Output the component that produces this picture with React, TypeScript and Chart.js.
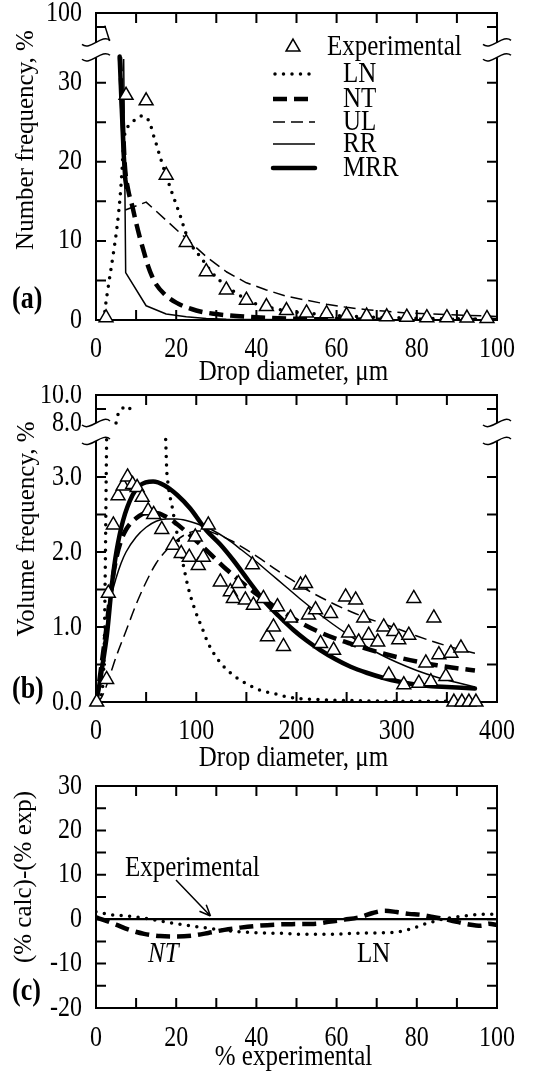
import React, { useEffect, useRef } from 'react';
import { Chart, registerables, LinearScale } from 'chart.js';

Chart.register(...registerables);

const SERIF = '"Liberation Serif", "Times New Roman", Times, serif';
const TEXT_STRETCH = 1.2;

// ---------------- Series names ----------------
const seriesNames = ['Experimental', 'LN', 'NT', 'UL', 'RR', 'MRR'];

// ---------------- Panel (a): number frequency ----------------
const aXTicks = [10, 20, 30, 40, 50, 60, 70, 80, 90];
const aXLabelValues = [0, 20, 40, 60, 80, 100];
const aXLabels = ['0', '20', '40', '60', '80', '100'];
const aYTicks = [5, 10, 15, 20, 25, 30, 90];
const aYLabelValues = [0, 10, 20, 30, 100];
const aYLabels = ['0', '10', '20', '30', '100'];

const aExpD = [2.5, 7.5, 12.5, 17.5, 22.5, 27.5, 32.5, 37.5, 42.5, 47.5, 52.5, 57.5, 62.5, 67.5, 72.5, 77.5, 82.5, 87.5, 92.5, 97.5];
const aExpV = [0.3, 28.4, 27.7, 18.3, 9.8, 6.1, 3.8, 2.5, 1.7, 1.2, 0.9, 0.8, 0.6, 0.5, 0.4, 0.35, 0.3, 0.3, 0.25, 0.2];

const aLnD = [2.0, 2.3, 3.3, 4.5, 5.3, 6.0, 6.5, 6.9, 7.5, 8.5, 9.5, 10.5, 11.5, 12.5, 13.5, 14.3, 15, 16, 17, 18, 19, 20, 21, 22, 23, 24, 26, 28, 30, 32.5, 35, 37.5, 40, 45, 50, 55, 60, 70, 80, 90, 100];
const aLnV = [0, 1.5, 5, 9, 12, 15.5, 19, 22.5, 24, 24.7, 25.2, 25.6, 25.8, 25.6, 24.8, 23.4, 22.3, 20.6, 19.0, 17.5, 16.0, 14.6, 13.2, 11.6, 10.2, 9.3, 8.0, 6.6, 5.4, 4.3, 3.4, 2.6, 2.0, 1.4, 1.0, 0.75, 0.55, 0.35, 0.22, 0.15, 0.1];

const aNtD = [6.0, 6.6, 7.2, 8, 9, 10, 11, 12, 13, 14, 15, 17, 20, 25, 30, 35, 40, 50, 60, 70, 80, 100];
const aNtV = [33.2, 26, 19.5, 16.5, 14.5, 12.3, 10.3, 8.5, 6.8, 5.5, 4.5, 3.3, 2.2, 1.2, 0.75, 0.5, 0.35, 0.15, 0.08, 0.04, 0.02, 0];

const aUlD = [7.3, 12.5, 17.5, 22.5, 27.5, 32.5, 37.5, 42.5, 47.5, 52.5, 57.5, 62.5, 67.5, 72.5, 77.5, 82.5, 87.5, 92.5, 97.5, 100];
const aUlV = [13.9, 14.9, 12.6, 10.3, 8.0, 6.1, 4.7, 3.8, 3.0, 2.5, 2.0, 1.6, 1.3, 1.1, 0.9, 0.78, 0.68, 0.58, 0.5, 0.45];

const aRrD = [2.2, 3.4, 5.0, 6.9, 7.2, 7.4, 12.5, 17.5, 22.5, 27.5, 32.5, 40, 60, 100];
const aRrV = [91, 80, null, 33, 17, 6, 1.8, 0.75, 0.4, 0.2, 0.1, 0.05, 0.02, 0];

const aMrrD = [5.9, 6.4, 6.9, 7.3, 7.6];
const aMrrV = [33.3, 27, 21, 17.8, 16.8];

// ---------------- Panel (b): volume frequency ----------------
const bXTicks = [50, 100, 150, 200, 250, 300, 350];
const bXLabelValues = [0, 100, 200, 300, 400];
const bXLabels = ['0', '100', '200', '300', '400'];
const bYTicks = [0.5, 1.0, 1.5, 2.0, 2.5, 3.0, 9.0];
const bYLabelValues = [0, 1, 2, 3, 8, 10];
const bYLabels = ['0.0', '1.0', '2.0', '3.0', '8.0', '10.0'];

const bExpD = [0.7, 10.6, 12.3, 17.3, 22, 27, 31.5, 36.5, 41, 46, 52, 57.5, 65.6, 77, 85, 93, 99, 102, 107, 112, 124, 134, 137, 142, 149, 156, 157, 167, 171, 177, 181, 187, 194, 204, 209, 212, 219, 224, 234, 237, 249, 252, 259, 262, 267, 272, 281, 287, 292, 297, 302, 307, 312, 317, 322, 329, 334, 337, 342, 349, 354, 357, 364, 365, 372, 379];
const bExpV = [0.0, 0.30, 1.45, 2.36, 2.75, 2.88, 3.0, 2.9, 2.86, 2.73, 2.55, 2.5, 2.3, 2.09, 1.98, 1.93, 2.2, 1.82, 1.93, 2.36, 1.60, 1.47, 1.38, 1.58, 1.36, 1.83, 1.29, 1.38, 0.87, 1.0, 1.27, 0.74, 1.12, 1.56, 1.58, 1.16, 1.23, 0.78, 1.18, 0.69, 1.40, 0.92, 1.36, 0.80, 1.12, 0.89, 0.80, 1.0, 0.36, 0.94, 0.83, 0.23, 0.89, 1.38, 0.25, 0.52, 0.27, 1.12, 0.63, 0.34, 0.65, 0.0, 0.72, 0.0, 0.0, 0.0];

const bLnD = [1.5, 7, 8.3, 9, 9.6, 10.1, 10.6, 15, 20, 21, 26, 29, 33, 37, 50, 69.5, 70, 70.5, 71.5, 73, 76, 78, 81.5, 86, 91, 95, 100, 106, 112, 122, 133, 144, 155, 165, 178, 190, 200, 225, 250, 300, 380];
const bLnV = [0, 0.25, 0.8, 1.5, 2.2, 2.9, 3.5, null, 8.0, 8.4, 9.0, 9.2, 9.1, 8.6, null, 3.5, 3.3, 3.1, 2.95, 2.8, 2.6, 2.45, 2.2, 1.9, 1.58, 1.38, 1.18, 0.98, 0.78, 0.56, 0.4, 0.29, 0.21, 0.15, 0.11, 0.07, 0.05, 0.03, 0.02, 0.01, 0.01];

const bNtD = [0, 3, 6, 10, 15, 20, 25, 30, 40, 50, 60, 70, 80, 90, 100, 115, 130, 145, 160, 175, 190, 205, 220, 240, 260, 280, 300, 320, 340, 360, 378];
const bNtV = [0, 0.25, 0.55, 0.95, 1.5, 1.9, 2.15, 2.3, 2.45, 2.52, 2.52, 2.47, 2.38, 2.27, 2.15, 1.96, 1.77, 1.6, 1.44, 1.3, 1.17, 1.05, 0.95, 0.84, 0.75, 0.67, 0.6, 0.54, 0.49, 0.45, 0.42];

const bUlD = [0, 5, 10, 15, 20, 30, 40, 50, 60, 70, 80, 90, 100, 110, 120, 135, 150, 165, 180, 195, 210, 225, 240, 255, 270, 285, 300, 320, 340, 360, 378];
const bUlV = [0, 0.05, 0.2, 0.4, 0.6, 0.95, 1.3, 1.6, 1.85, 2.02, 2.15, 2.24, 2.28, 2.28, 2.24, 2.15, 2.03, 1.9, 1.76, 1.63, 1.5, 1.39, 1.29, 1.2, 1.12, 1.05, 0.98, 0.88, 0.79, 0.71, 0.65];

const bRrD = [0, 2, 5, 8, 12, 16, 20, 25, 30, 40, 50, 60, 70, 80, 90, 100, 115, 130, 145, 160, 175, 190, 205, 220, 235, 250, 265, 280, 300, 320, 340, 360, 378];
const bRrV = [0, 0.1, 0.45, 0.8, 1.15, 1.45, 1.65, 1.85, 2.0, 2.2, 2.33, 2.41, 2.44, 2.44, 2.42, 2.38, 2.3, 2.18, 2.03, 1.87, 1.7, 1.53, 1.36, 1.2, 1.05, 0.91, 0.78, 0.66, 0.53, 0.42, 0.33, 0.26, 0.2];

const bMrrD = [0, 3, 6, 11, 16, 20.6, 27, 36.5, 44, 57, 68, 81, 94, 110, 124, 137, 152, 167, 182, 197, 210, 224, 239, 254, 270, 287, 303, 320, 335, 350, 365, 378];
const bMrrV = [0, 0.2, 0.45, 0.91, 1.58, 2.02, 2.42, 2.76, 2.89, 2.94, 2.89, 2.76, 2.58, 2.29, 2.1, 1.89, 1.62, 1.36, 1.15, 0.96, 0.82, 0.69, 0.57, 0.47, 0.39, 0.32, 0.27, 0.23, 0.21, 0.2, 0.19, 0.18];

// ---------------- Panel (c): deviation ----------------
const cXTicks = [10, 20, 30, 40, 50, 60, 70, 80, 90];
const cXLabelValues = [0, 20, 40, 60, 80, 100];
const cXLabels = ['0', '20', '40', '60', '80', '100'];
const cYTicks = [-15, -10, -5, 0, 5, 10, 15, 20, 25];
const cYLabelValues = [-20, -10, 0, 10, 20, 30];
const cYLabels = ['-20', '-10', '0', '10', '20', '30'];

const cExpX = [0, 100];
const cExpY = [0, 0];
const cNtX = [0, 2, 5, 8, 12, 16, 20, 24, 28, 32, 36, 40, 45, 50, 55, 58, 62, 66, 69, 72, 75, 78, 81, 84, 87, 90, 93, 96, 98, 100];
const cNtY = [0.4, -0.2, -1.2, -2.3, -3.3, -3.8, -3.9, -3.7, -3.1, -2.4, -1.9, -1.5, -1.2, -1.1, -1.0, -0.6, -0.1, 0.5, 1.4, 1.9, 1.6, 1.2, 1.0, 0.5, 0, -0.6, -1.2, -1.5, -1.0, -1.3];
const cLnX = [0, 3, 7, 11, 16, 22, 27, 32, 37, 42, 47, 52, 59, 64, 69, 74, 78, 82, 85.5, 89, 92, 96, 100];
const cLnY = [1.7, 1.1, 0.75, 0.4, -0.4, -1.3, -1.9, -2.5, -2.9, -3.1, -3.2, -3.4, -3.4, -3.2, -3.1, -3.0, -2.3, -1.1, -0.2, 0.4, 0.75, 1.1, 1.1];

// ---------------- Broken-axis scales ----------------
function brokenMap(v: any, split: number, topValue: number, topDisplay: number, slope: number) {
  if (v === null || v === undefined || Number.isNaN(v)) return v;
  return v <= split ? v : topDisplay - (topValue - v) * slope;
}
const mapA = (v: any) => brokenMap(v, 34, 100, 38.8, 0.177);
const mapB = (v: any) => brokenMap(v, 3.6, 10, 4.093, 0.1867);

class BrokenScaleA extends LinearScale {
  static id = 'brokenA';
  getPixelForValue(value: any, index?: number) {
    return super.getPixelForValue(mapA(value), index);
  }
}
class BrokenScaleB extends LinearScale {
  static id = 'brokenB';
  getPixelForValue(value: any, index?: number) {
    return super.getPixelForValue(mapB(value), index);
  }
}
Chart.register(BrokenScaleA as any, BrokenScaleB as any);

// ---------------- Styles ----------------
const STYLE: Record<string, any> = {
  LN: { borderWidth: 3.5, borderDash: [0, 8.5], borderCapStyle: 'round' },
  NT: { borderWidth: 4.5, borderDash: [14, 7], borderCapStyle: 'butt' },
  UL: { borderWidth: 1.5, borderDash: [12, 6], borderCapStyle: 'butt' },
  RR: { borderWidth: 1.5, borderCapStyle: 'butt' },
  MRR: { borderWidth: 4.5, borderCapStyle: 'round' },
  EXPLINE: { borderWidth: 2.2, borderCapStyle: 'butt' },
};

const toPoints = (xs: number[], ys: (number | null)[]) => xs.map((x, i) => ({ x, y: ys[i] }));

function lineDataset(label: string, xs: number[], ys: (number | null)[], style: any, smooth: boolean) {
  return {
    label,
    data: toPoints(xs, ys),
    borderColor: '#000',
    backgroundColor: '#000',
    pointRadius: 0,
    fill: false,
    spanGaps: false,
    tension: 0,
    cubicInterpolationMode: smooth ? 'monotone' : 'default',
    borderJoinStyle: 'round',
    ...style,
  };
}

function expDataset(xs: number[], ys: number[]) {
  return {
    label: seriesNames[0],
    data: toPoints(xs, ys),
    showLine: false,
    pointStyle: 'triangle',
    pointRadius: 8,
    pointBackgroundColor: '#fff',
    pointBorderColor: '#000',
    pointBorderWidth: 1.5,
    clip: false,
  };
}

function text(ctx: CanvasRenderingContext2D, s: string, x: number, y: number) {
  ctx.save();
  ctx.translate(x, y);
  ctx.scale(1, TEXT_STRETCH);
  ctx.fillText(s, 0, 0);
  ctx.restore();
}

function drawTriangle(ctx: CanvasRenderingContext2D, x: number, y: number, r: number) {
  ctx.beginPath();
  for (let k = 0; k < 3; k++) {
    const a = (k * 2 * Math.PI) / 3;
    const px = x + Math.sin(a) * r;
    const py = y - Math.cos(a) * r;
    if (k === 0) ctx.moveTo(px, py); else ctx.lineTo(px, py);
  }
  ctx.closePath();
  ctx.fillStyle = '#fff';
  ctx.fill();
  ctx.strokeStyle = '#000';
  ctx.lineWidth = 1.5;
  ctx.stroke();
}

function strokeSample(ctx: CanvasRenderingContext2D, x1: number, x2: number, y: number, style: any) {
  ctx.save();
  ctx.strokeStyle = '#000';
  ctx.lineWidth = style.borderWidth;
  ctx.lineCap = style.borderCapStyle || 'butt';
  ctx.setLineDash(style.borderDash || []);
  ctx.beginPath();
  ctx.moveTo(x1, y);
  ctx.lineTo(x2, y);
  ctx.stroke();
  ctx.restore();
}

function tilde(ctx: CanvasRenderingContext2D, x: number, y: number) {
  ctx.beginPath();
  ctx.moveTo(x - 14, y + 2);
  ctx.bezierCurveTo(x - 6, y + 9, x + 6, y - 9, x + 14, y - 2);
  ctx.stroke();
}

// ---------------- Figure plugin (frame, ticks, texts) ----------------
function figurePlugin(cfg: any) {
  const TICK = 10;
  return {
    id: 'figure_' + cfg.name,
    beforeDatasetsDraw(chart: any) {
      const { ctx, chartArea: a } = chart;
      const xs = chart.scales.x;
      const ys = chart.scales.y;
      ctx.save();
      ctx.strokeStyle = '#000';
      ctx.lineWidth = 2;
      ctx.beginPath();
      ctx.moveTo(a.left - 1, a.top);
      ctx.lineTo(a.right + 1, a.top);
      ctx.moveTo(a.left - 1, a.bottom);
      ctx.lineTo(a.right + 1, a.bottom);
      if (cfg.brk) {
        const yHi = ys.getPixelForValue(cfg.brk[1]);
        const yLo = ys.getPixelForValue(cfg.brk[0]);
        for (const x of [a.left, a.right]) {
          ctx.moveTo(x, a.top);
          ctx.lineTo(x, yHi);
          ctx.moveTo(x, yLo);
          ctx.lineTo(x, a.bottom);
        }
      } else {
        ctx.moveTo(a.left, a.top);
        ctx.lineTo(a.left, a.bottom);
        ctx.moveTo(a.right, a.top);
        ctx.lineTo(a.right, a.bottom);
      }
      ctx.stroke();

      ctx.lineWidth = 2;
      ctx.beginPath();
      for (const v of cfg.xTicks) {
        const x = xs.getPixelForValue(v);
        ctx.moveTo(x, a.bottom);
        ctx.lineTo(x, a.bottom - TICK);
        ctx.moveTo(x, a.top);
        ctx.lineTo(x, a.top + TICK);
      }
      for (const v of cfg.yTicks) {
        const y = ys.getPixelForValue(v);
        ctx.moveTo(a.left, y);
        ctx.lineTo(a.left + TICK, y);
        ctx.moveTo(a.right, y);
        ctx.lineTo(a.right - TICK, y);
      }
      ctx.stroke();

      if (cfg.brk) {
        ctx.lineWidth = 1.5;
        const yHi = ys.getPixelForValue(cfg.brk[1]);
        const yLo = ys.getPixelForValue(cfg.brk[0]);
        for (const x of [a.left, a.right]) {
          tilde(ctx, x, yHi);
          tilde(ctx, x, yLo);
        }
      }
      ctx.restore();
    },
    afterDraw(chart: any) {
      const { ctx, chartArea: a } = chart;
      const xs = chart.scales.x;
      const ys = chart.scales.y;
      ctx.save();
      ctx.fillStyle = '#000';
      ctx.font = `24px ${SERIF}`;
      ctx.textAlign = 'right';
      ctx.textBaseline = 'middle';
      cfg.yLabelValues.forEach((v: number, i: number) => {
        text(ctx, cfg.yLabels[i], a.left - 14, ys.getPixelForValue(v));
      });
      ctx.textAlign = 'center';
      ctx.textBaseline = 'alphabetic';
      cfg.xLabelValues.forEach((v: number, i: number) => {
        text(ctx, cfg.xLabels[i], xs.getPixelForValue(v), a.bottom + cfg.xLabelDy);
      });
      ctx.font = `25px ${SERIF}`;
      text(ctx, cfg.xTitle, (a.left + a.right) / 2 - 3, a.bottom + cfg.xTitleDy);

      ctx.save();
      ctx.translate(cfg.yTitlePos[0], cfg.yTitlePos[1]);
      ctx.rotate(-Math.PI / 2);
      ctx.textAlign = 'center';
      ctx.textBaseline = 'middle';
      ctx.fillText(cfg.yTitle, 0, 0);
      ctx.restore();

      ctx.font = `bold 26px ${SERIF}`;
      ctx.textAlign = 'left';
      ctx.textBaseline = 'middle';
      text(ctx, cfg.panel, cfg.panelPos[0], cfg.panelPos[1]);

      if (cfg.extra) cfg.extra(ctx, chart);
      ctx.restore();
    },
  };
}

function makeChart(canvas: HTMLCanvasElement, cfg: any) {
  return new Chart(canvas, {
    type: 'line',
    data: { datasets: cfg.datasets },
    options: {
      animation: false,
      responsive: false,
      devicePixelRatio: 1,
      events: [],
      layout: { padding: cfg.padding },
      plugins: { legend: { display: false }, tooltip: { enabled: false } },
      scales: {
        x: { type: 'linear', min: cfg.xMin, max: cfg.xMax, display: false },
        y: { type: cfg.yType, min: cfg.yMin, max: cfg.yMax, display: false },
      },
    } as any,
    plugins: [figurePlugin(cfg) as any],
  });
}

function legendA(ctx: CanvasRenderingContext2D) {
  drawTriangle(ctx, 293, 47, 8);
  ctx.fillStyle = '#000';
  ctx.font = `25px ${SERIF}`;
  ctx.textAlign = 'left';
  ctx.textBaseline = 'middle';
  text(ctx, seriesNames[0], 327, 47);
  const rows: [string, number, number][] = [
    ['LN', 74, 313],
    ['NT', 99, 310],
    ['UL', 122, 315],
    ['RR', 144, 315],
    ['MRR', 168, 315],
  ];
  for (const [name, y, x2] of rows) {
    strokeSample(ctx, name === 'LN' ? 275 : 273, x2, y, STYLE[name]);
    ctx.fillStyle = '#000';
    text(ctx, name, 343, y);
  }
}

function annotC(ctx: CanvasRenderingContext2D) {
  ctx.fillStyle = '#000';
  ctx.strokeStyle = '#000';
  ctx.font = `25px ${SERIF}`;
  ctx.textAlign = 'left';
  ctx.textBaseline = 'alphabetic';
  text(ctx, seriesNames[0], 125, 106);
  const x1 = 176, y1 = 110, x2 = 210.5, y2 = 146;
  ctx.lineWidth = 1.5;
  ctx.beginPath();
  ctx.moveTo(x1, y1);
  ctx.lineTo(x2, y2);
  const ang = Math.atan2(y2 - y1, x2 - x1);
  const L = 12, spread = 0.4;
  ctx.moveTo(x2, y2);
  ctx.lineTo(x2 - L * Math.cos(ang - spread), y2 - L * Math.sin(ang - spread));
  ctx.moveTo(x2, y2);
  ctx.lineTo(x2 - L * Math.cos(ang + spread), y2 - L * Math.sin(ang + spread));
  ctx.stroke();
  ctx.font = `italic 25px ${SERIF}`;
  text(ctx, 'NT', 148, 192);
  ctx.font = `25px ${SERIF}`;
  text(ctx, 'LN', 357, 192);
}

export default function App() {
  const refA = useRef<HTMLCanvasElement>(null);
  const refB = useRef<HTMLCanvasElement>(null);
  const refC = useRef<HTMLCanvasElement>(null);

  useEffect(() => {
    const chartA = makeChart(refA.current as HTMLCanvasElement, {
      name: 'a',
      padding: { left: 96, right: 55, top: 13, bottom: 65 },
      xMin: 0, xMax: 100, yType: 'brokenA', yMin: 0, yMax: 38.8,
      brk: [33.2, 79],
      xTicks: aXTicks, yTicks: aYTicks,
      xLabelValues: aXLabelValues, xLabels: aXLabels,
      yLabelValues: aYLabelValues, yLabels: aYLabels,
      xLabelDy: 37, xTitle: 'Drop diameter, μm', xTitleDy: 60,
      yTitle: 'Number frequency, %', yTitlePos: [26, 140],
      panel: '(a)', panelPos: [12, 300],
      extra: legendA,
      datasets: [
        expDataset(aExpD, aExpV),
        lineDataset('MRR', aMrrD, aMrrV, STYLE.MRR, false),
        lineDataset('NT', aNtD, aNtV, STYLE.NT, true),
        lineDataset('LN', aLnD, aLnV, STYLE.LN, true),
        lineDataset('UL', aUlD, aUlV, STYLE.UL, false),
        lineDataset('RR', aRrD, aRrV, STYLE.RR, false),
      ],
    });
    const chartB = makeChart(refB.current as HTMLCanvasElement, {
      name: 'b',
      padding: { left: 96, right: 55, top: 10, bottom: 68 },
      xMin: 0, xMax: 400, yType: 'brokenB', yMin: 0, yMax: 4.093,
      brk: [3.48, 8.0],
      xTicks: bXTicks, yTicks: bYTicks,
      xLabelValues: bXLabelValues, xLabels: bXLabels,
      yLabelValues: bYLabelValues, yLabels: bYLabels,
      xLabelDy: 37, xTitle: 'Drop diameter, μm', xTitleDy: 64,
      yTitle: 'Volume frequency, %', yTitlePos: [27, 144],
      panel: '(b)', panelPos: [12, 305],
      datasets: [
        expDataset(bExpD, bExpV),
        lineDataset('MRR', bMrrD, bMrrV, STYLE.MRR, true),
        lineDataset('NT', bNtD, bNtV, STYLE.NT, true),
        lineDataset('LN', bLnD, bLnV, STYLE.LN, true),
        lineDataset('UL', bUlD, bUlV, STYLE.UL, true),
        lineDataset('RR', bRrD, bRrV, STYLE.RR, true),
      ],
    });
    const chartC = makeChart(refC.current as HTMLCanvasElement, {
      name: 'c',
      padding: { left: 96, right: 55, top: 16, bottom: 65 },
      xMin: 0, xMax: 100, yType: 'linear', yMin: -20, yMax: 30,
      xTicks: cXTicks, yTicks: cYTicks,
      xLabelValues: cXLabelValues, xLabels: cXLabels,
      yLabelValues: cYLabelValues, yLabels: cYLabels,
      xLabelDy: 38, xTitle: '% experimental', xTitleDy: 57,
      yTitle: '(% calc)-(% exp)', yTitlePos: [24, 107],
      panel: '(c)', panelPos: [12, 222],
      extra: annotC,
      datasets: [
        lineDataset('Experimental', cExpX, cExpY, STYLE.EXPLINE, false),
        lineDataset('NT', cNtX, cNtY, STYLE.NT, true),
        lineDataset('LN', cLnX, cLnY, STYLE.LN, true),
      ],
    });
    return () => {
      chartA.destroy();
      chartB.destroy();
      chartC.destroy();
    };
  }, []);

  return (
    <div style={{ position: 'absolute', left: 0, top: 0, width: 552, height: 1073, background: '#fff' }}>
      <canvas ref={refA} width={552} height={385} style={{ position: 'absolute', left: 0, top: 0 }} />
      <canvas ref={refB} width={552} height={385} style={{ position: 'absolute', left: 0, top: 385 }} />
      <canvas ref={refC} width={552} height={303} style={{ position: 'absolute', left: 0, top: 770 }} />
    </div>
  );
}
